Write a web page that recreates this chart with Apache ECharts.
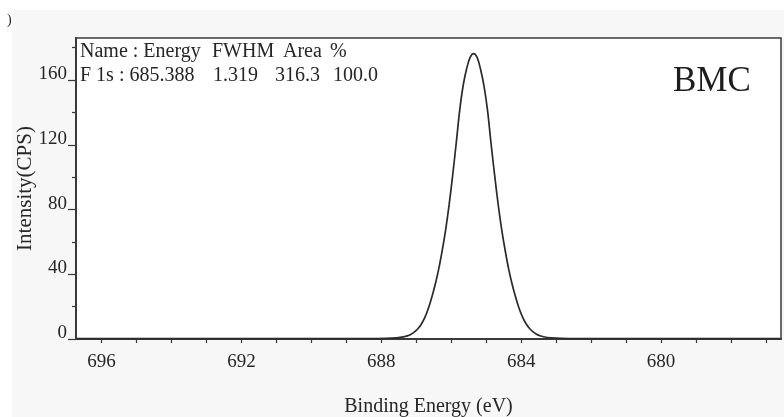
<!DOCTYPE html>
<html>
<head>
<meta charset="utf-8">
<script src="https://cdn.jsdelivr.net/npm/echarts@6/dist/echarts.min.js"></script>
<style>
  html, body { margin: 0; padding: 0; background: #ffffff; }
  #chart { width: 784px; height: 417px; }
</style>
</head>
<body>
<div id="chart"></div>
<script>
// F 1s XPS spectrum (binding energy in eV, intensity in counts per second)
const bindingEnergy = [
  696.7, 694.0, 692.0, 690.0, 688.36, 687.86, 687.56, 687.36, 687.26, 687.16,
  687.06, 686.96, 686.86, 686.76, 686.66, 686.56, 686.46, 686.36, 686.26, 686.16,
  686.06, 685.96, 685.86, 685.76, 685.66, 685.56, 685.46, 685.36, 685.26, 685.16,
  685.06, 684.96, 684.86, 684.76, 684.66, 684.56, 684.46, 684.36, 684.26, 684.16,
  684.06, 683.96, 683.86, 683.76, 683.66, 683.56, 683.46, 683.36, 683.16, 682.86,
  682.36, 680.0, 678.0, 676.6
];
const intensity = [
  0.2, 0.2, 0.2, 0.2, 0.2, 0.35, 0.7, 1.3, 1.9, 2.8,
  4.2, 6.2, 9.0, 13.0, 18.5, 25.5, 33.5, 43.0, 54.5, 67.5,
  83.0, 101.0, 120.5, 141.0, 156.5, 167.0, 174.0, 176.4, 174.0, 166.5,
  156.0, 141.0, 120.5, 101.5, 83.5, 68.0, 55.0, 43.5, 34.0, 26.0,
  19.0, 13.5, 9.4, 6.5, 4.4, 3.0, 2.0, 1.4, 0.75, 0.4,
  0.25, 0.2, 0.2, 0.2
];

// axis ticks
const xLabelTicks = [696, 692, 688, 684, 680];
const xAllTicks = [696, 695, 694, 693, 692, 691, 690, 689, 688, 687, 686, 685,
                   684, 683, 682, 681, 680, 679, 678, 677];
const yLabelTicks = [0, 40, 80, 120, 160];
const yMinorTicks = [20, 60, 100, 140, 180];

// peak-fit table and sample name
const fitHeader = ['Name : Energy', 'FWHM', 'Area', '%'];
const fitRow = ['F 1s : 685.388', '1.319', '316.3', '100.0'];
const sampleName = 'BMC';

const SERIF = '"Liberation Serif", "Times New Roman", serif';
const INK = '#262626';

const chart = echarts.init(document.getElementById('chart'), null, { renderer: 'canvas' });

const headerX = [80, 212, 283, 330];
const rowX = [80, 213, 275, 333];

const tableText = [];
fitHeader.forEach((t, i) => tableText.push({
  type: 'text', z: 10,
  style: { x: headerX[i], y: 52, text: t, font: '20px ' + SERIF, fill: INK, textVerticalAlign: 'middle' }
}));
fitRow.forEach((t, i) => tableText.push({
  type: 'text', z: 10,
  style: { x: rowX[i], y: 76, text: t, font: '20px ' + SERIF, fill: INK, textVerticalAlign: 'middle' }
}));

const option = {
  backgroundColor: '#ffffff',
  animation: false,
  grid: {
    left: 76, right: 3, top: 38, bottom: 78,
    containLabel: false,
    outerBoundsMode: 'none',
    show: true, backgroundColor: '#ffffff',
    borderColor: '#3a3a3a', borderWidth: 1.5
  },
  xAxis: {
    type: 'value',
    inverse: true,
    min: 676.57, max: 696.73,
    name: 'Binding Energy (eV)',
    nameLocation: 'middle',
    nameGap: 58,
    nameMoveOverlap: false,
    nameTextStyle: { fontFamily: SERIF, fontSize: 20, color: INK },
    axisLine: { show: true, lineStyle: { color: '#3a3a3a', width: 2 } },
    axisTick: { show: true, inside: false, length: 4, customValues: xAllTicks,
                lineStyle: { color: '#3a3a3a', width: 1.2 } },
    axisLabel: { customValues: xLabelTicks, margin: 14,
                 fontFamily: SERIF, fontSize: 19, color: INK },
    splitLine: { show: false }
  },
  yAxis: [
    {
      type: 'value',
      min: 0, max: 186,
      name: 'Intensity(CPS)',
      nameLocation: 'middle',
      nameGap: 40,
      nameMoveOverlap: false,
      nameTextStyle: { fontFamily: SERIF, fontSize: 21, color: INK },
      axisLine: { show: true, lineStyle: { color: '#3a3a3a', width: 2 } },
      axisTick: { show: true, inside: false, length: 8, customValues: yLabelTicks,
                  lineStyle: { color: '#3a3a3a', width: 1.2 } },
      axisLabel: { customValues: yLabelTicks, margin: 9,
                   fontFamily: SERIF, fontSize: 19, color: INK,
                   verticalAlign: 'bottom', lineHeight: 12 },
      splitLine: { show: false }
    },
    {
      type: 'value',
      position: 'left',
      min: 0, max: 186,
      axisLine: { show: false },
      axisTick: { show: true, inside: false, length: 4, customValues: yMinorTicks,
                  lineStyle: { color: '#3a3a3a', width: 1.2 } },
      axisLabel: { show: false },
      splitLine: { show: false }
    }
  ],
  graphic: [
    {
      type: 'rect', z: -10, silent: true,
      shape: { x: 12, y: 10, width: 772, height: 407 },
      style: { fill: '#f7f7f7' }
    },
    {
      type: 'text', z: 10,
      style: { x: 7, y: 20, text: ')', font: '14px ' + SERIF, fill: INK, textVerticalAlign: 'middle' }
    },
    {
      type: 'text', z: 10,
      style: { x: 673, y: 82, text: sampleName, font: '35px ' + SERIF, fill: '#1e1e1e', textVerticalAlign: 'middle' }
    }
  ].concat(tableText),
  series: [
    {
      type: 'line',
      xAxisIndex: 0,
      yAxisIndex: 0,
      data: bindingEnergy.map((e, i) => [e, intensity[i]]),
      showSymbol: false,
      smooth: 0.35,
      lineStyle: { color: '#2a2a2a', width: 1.7 },
      clip: true
    }
  ]
};

chart.setOption(option);
</script>
</body>
</html>
